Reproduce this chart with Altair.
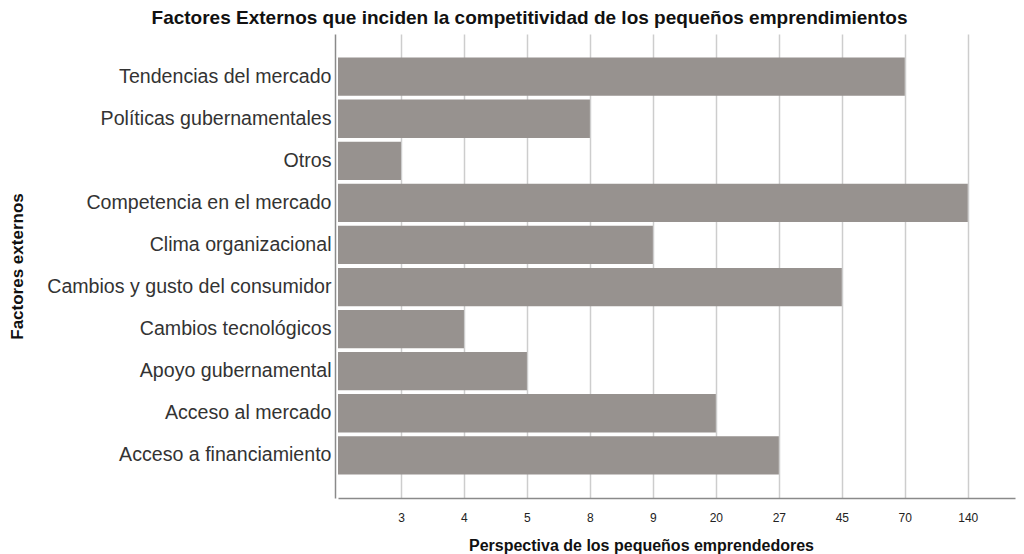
import altair as alt
import pandas as pd

categories = ["Tendencias del mercado", "Políticas gubernamentales", "Otros",
              "Competencia en el mercado", "Clima organizacional",
              "Cambios y gusto del consumidor", "Cambios tecnológicos",
              "Apoyo gubernamental", "Acceso al mercado", "Acceso a financiamiento"]
values = [70, 8, 3, 140, 9, 45, 4, 5, 20, 27]
tick_labels = [3, 4, 5, 8, 9, 20, 27, 45, 70, 140]

df = pd.DataFrame({
    "factor": categories,
    "valor": values,
    "pos": [tick_labels.index(v) + 1 for v in values],
})

label_arr = "[''," + ",".join(f"'{t}'" for t in tick_labels) + "]"
FONT = "Liberation Sans"

chart = alt.Chart(df).mark_bar(color="#97928f").encode(
    x=alt.X("pos:Q",
            scale=alt.Scale(domain=[0, 10.75], nice=False, zero=True),
            axis=alt.Axis(values=list(range(1, 11)),
                          labelExpr=f"{label_arr}[datum.value]",
                          title="Perspectiva de los pequeños emprendedores",
                          titleX=303, titleY=47, titleBaseline="middle",
                          titleFontSize=16, titleFontWeight="bold", titleColor="#111",
                          labelFontSize=12, labelColor="#222", labelPadding=14,
                          ticks=False, grid=True, gridColor="#cdcdcd", gridWidth=1.5,
                          domainColor="#8a8a8a", domainWidth=1.5, labelFont=FONT, titleFont=FONT)),
    y=alt.Y("factor:N", sort=categories,
            scale=alt.Scale(paddingInner=0.09, paddingOuter=0.56),
            axis=alt.Axis(title="Factores externos", titleX=-318, titleY=232,
                          titleAngle=-90, titleBaseline="middle", titleAlign="center",
                          titleFontSize=17, titleFontWeight="bold", titleColor="#111",
                          labelFontSize=19.6, labelColor="#333", labelPadding=4, labelLimit=400,
                          offset=3, ticks=False, grid=False, domainColor="#8a8a8a", domainWidth=1.5,
                          labelFont=FONT, titleFont=FONT)),
    tooltip=["factor", "valor"],
).properties(
    width=677, height=464,
    title=alt.TitleParams("Factores Externos que inciden la competitividad de los pequeños emprendimientos",
                          anchor="middle", frame="group", dx=-147, offset=6,
                          fontSize=19, fontWeight="bold", font=FONT, color="#111"),
    autosize=alt.AutoSizeParams(type="none"),
    padding={"left": 330, "top": 26, "right": 1, "bottom": 56},
).configure_view(stroke=None)

chart.save("out.html", embed_options={"renderer": "svg", "actions": False})
